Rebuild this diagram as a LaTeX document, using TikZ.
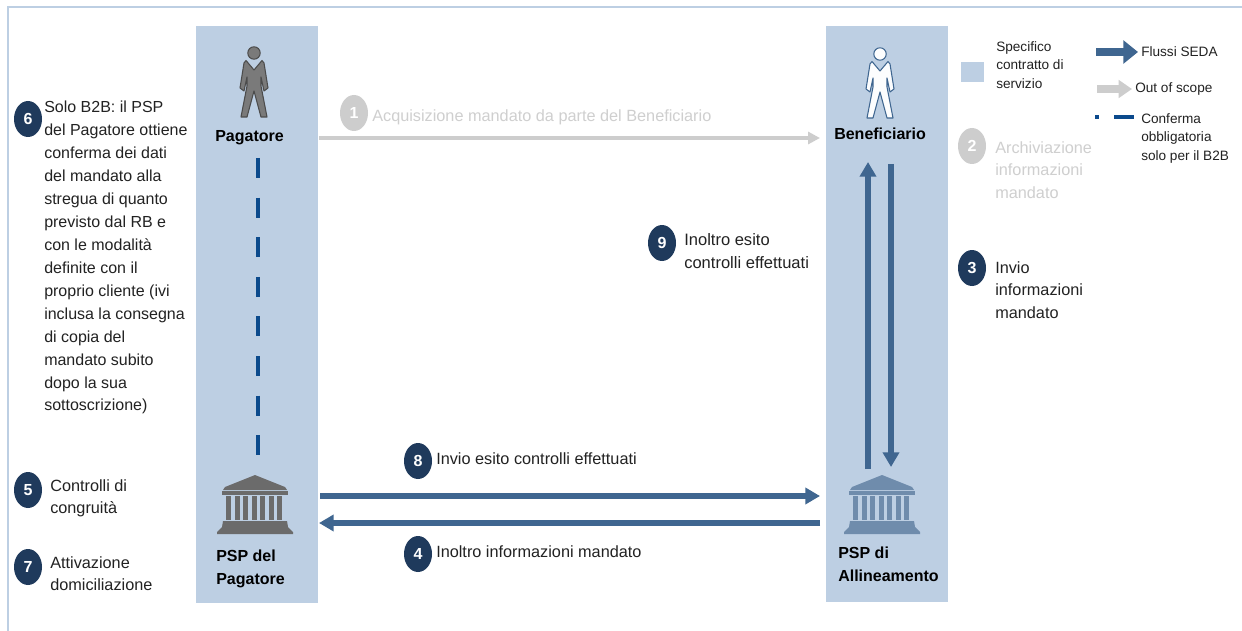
\documentclass[tikz,border=0pt]{standalone}
\usepackage{fontspec}
\setmainfont{Liberation Sans}
\usetikzlibrary{arrows.meta,shapes.geometric}
\definecolor{panel}{HTML}{BDCFE3}
\definecolor{flow}{HTML}{3F6690}
\definecolor{navy}{HTML}{1F3A5C}
\definecolor{dashblue}{HTML}{0B4A8C}
\definecolor{oos}{HTML}{CDCDCD}
\definecolor{oostext}{HTML}{CFCFCF}
\definecolor{txt}{HTML}{222222}
\tikzset{
 x=0.75pt,y=-0.75pt,
 panelbox/.style={fill=panel,draw=none},
 label/.style={font=\fontsize{12.2}{17.2}\selectfont,text=txt,anchor=north west,inner sep=0pt,align=left},
 faded/.style={label,text=oostext},
 actor/.style={font=\fontsize{12}{17.2}\selectfont\bfseries,text=black,inner sep=0pt,align=left},
 num/.style={ellipse,fill=navy,text=white,minimum width=21pt,minimum height=27pt,inner sep=0pt,font=\fontsize{12}{12}\selectfont\bfseries},
 numg/.style={num,fill=oos},
 flowarrow/.style={draw=flow,line width=4.2pt,-{Triangle[length=11pt,width=12pt]}},
 grayarrow/.style={draw=oos,line width=2.6pt,-{Triangle[length=9pt,width=9pt]}},
 confirm/.style={draw=dashblue,line width=3.5pt,dash pattern=on 15pt off 14.7pt},
 legend/.style={font=\fontsize{10.2}{13.9}\selectfont,text=txt,anchor=north west,inner sep=0pt,align=left},
}
\newcommand{\person}[4]{% x y fill draw
 \begin{scope}[shift={(#1,#2)}]
  \draw[fill=#3,draw=#4,line width=0.8pt] (0,0) circle[radius=6.2];
  \draw[fill=#3,draw=#4,line width=0.8pt,line join=round]
   (-8,7.5) -- (0,17) -- (8,7.5) -- (10,10) -- (14,35) -- (10,38) -- (7,24) -- (7,33) -- (13,64) -- (7,64) -- (0,38) -- (-7,64) -- (-13,64) -- (-7,33) -- (-7,24) -- (-10,38) -- (-14,35) -- (-10,10) -- cycle;
 \end{scope}}
\newcommand{\bank}[3]{% x y fill
 \begin{scope}[shift={(#1,#2)},fill=#3]
  \fill (-32,15) -- (-30,12) -- (0,0) -- (30,12) -- (32,15) -- cycle;
  \fill (-33,16) rectangle (33,20);
  \foreach \i in {-29,-20.5,-12,-3.5,5,13.5,22}{\fill (\i,21) rectangle (\i+5,45);}
  \fill (-32,46) -- (32,46) -- (33,52) -- (38,57) -- (38,59) -- (-38,59) -- (-38,57) -- (-33,52) -- cycle;
 \end{scope}}
\begin{document}
\begin{tikzpicture}
\useasboundingbox (0,0) rectangle (1242,631);
\fill[white] (0,0) rectangle (1242,631);
\draw[draw=panel,line width=1.5pt] (8,631) -- (8,7.5) -- (1242,7.5);
% panels
\fill[panelbox] (196,26) rectangle (318,603);
\fill[panelbox] (826,26) rectangle (948,602);
\fill[panelbox] (961,62) rectangle (984,82);
% icons
\person{254}{53}{black!52}{black!70}
\person{880}{54}{white!95!panel}{flow}
\bank{255}{475}{black!58}
\bank{882}{475}{flow!75!white}
% actors
\node[actor,anchor=west] (pag) at (215,137.5) {Pagatore};
\node[actor,anchor=west] (ben) at (834,133.5) {Beneficiario};
\node[actor,anchor=north west] (psppag) at (216,549.5) {PSP del\\Pagatore};
\node[actor,anchor=north west] (pspall) at (838,547) {PSP di\\Allineamento};
% connector anchors
\coordinate (a1s) at (319,138); \coordinate (a1e) at (820,138);
\coordinate (a8s) at (320,496); \coordinate (a8e) at (820,496);
\coordinate (a4s) at (820,523); \coordinate (a4e) at (319,523);
\coordinate (a9s) at (868,469); \coordinate (a9e) at (868,162);
\coordinate (a3s) at (891,164); \coordinate (a3e) at (891,467);
\coordinate (cs) at (258,158); \coordinate (ce) at (258,455);
\draw[grayarrow] (a1s) -- (a1e);
\draw[flowarrow] (a8s) -- (a8e);
\draw[flowarrow] (a4s) -- (a4e);
\draw[flowarrow] (a9s) -- (a9e);
\draw[flowarrow] (a3s) -- (a3e);
\draw[confirm] (cs) -- (ce);
% numbered labels
\node[num] (n6) at (28,119) {6};
\node[label,font=\fontsize{12}{17.2}\selectfont] (t6) at (44,101) {Solo B2B: il PSP\\del Pagatore ottiene\\conferma dei dati\\del mandato alla\\stregua di quanto\\previsto dal RB e\\con le modalità\\definite con il\\proprio cliente (ivi\\inclusa la consegna\\di copia del\\mandato subito\\dopo la sua\\sottoscrizione)};
\node[num] (n5) at (28,490) {5};
\node[label] (t5) at (50,479) {Controlli di\\congruità};
\node[num] (n7) at (28,567) {7};
\node[label] (t7) at (50,556) {Attivazione\\domiciliazione};
\node[numg] (n1) at (354,113) {1};
\node[faded,anchor=west] (t1) at (372,117) {Acquisizione mandato da parte del Beneficiario};
\node[numg] (n2) at (972,146) {2};
\node[faded] (t2) at (995,141) {Archiviazione\\informazioni\\mandato};
\node[num] (n3) at (972,268) {3};
\node[label] (t3) at (995,261) {Invio\\informazioni\\mandato};
\node[num] (n9) at (662,243) {9};
\node[label,font=\fontsize{12.4}{17.2}\selectfont] (t9) at (684,233) {Inoltro esito\\controlli effettuati};
\node[num] (n8) at (418,461) {8};
\node[label,anchor=west] (t8) at (436,459) {Invio esito controlli effettuati};
\node[num] (n4) at (418,554) {4};
\node[label,anchor=west] (t4) at (436,552) {Inoltro informazioni mandato};
% legend
\node[legend] (l1) at (996,41) {Specifico\\contratto di\\servizio};
\coordinate (lf1) at (1096,52); \coordinate (lf2) at (1138,52);
\draw[draw=flow,line width=6.5pt,-{Triangle[length=11pt,width=17pt]}] (lf1) -- (lf2);
\node[legend,anchor=west] (l2) at (1141,52) {Flussi SEDA};
\coordinate (lg1) at (1097,89); \coordinate (lg2) at (1132,89);
\draw[draw=oos,line width=5.5pt,-{Triangle[length=10pt,width=13pt]}] (lg1) -- (lg2);
\node[legend,anchor=west] (l3) at (1135,89) {Out of scope};
\coordinate (ld1) at (1095,117); \coordinate (ld2) at (1134,117);
\draw[draw=dashblue,line width=2.5pt,dash pattern=on 3pt off 11.5pt on 15pt off 20pt] (ld1) -- (ld2);
\node[legend] (l4) at (1141,113) {Conferma\\obbligatoria\\solo per il B2B};
\end{tikzpicture}
\end{document}
